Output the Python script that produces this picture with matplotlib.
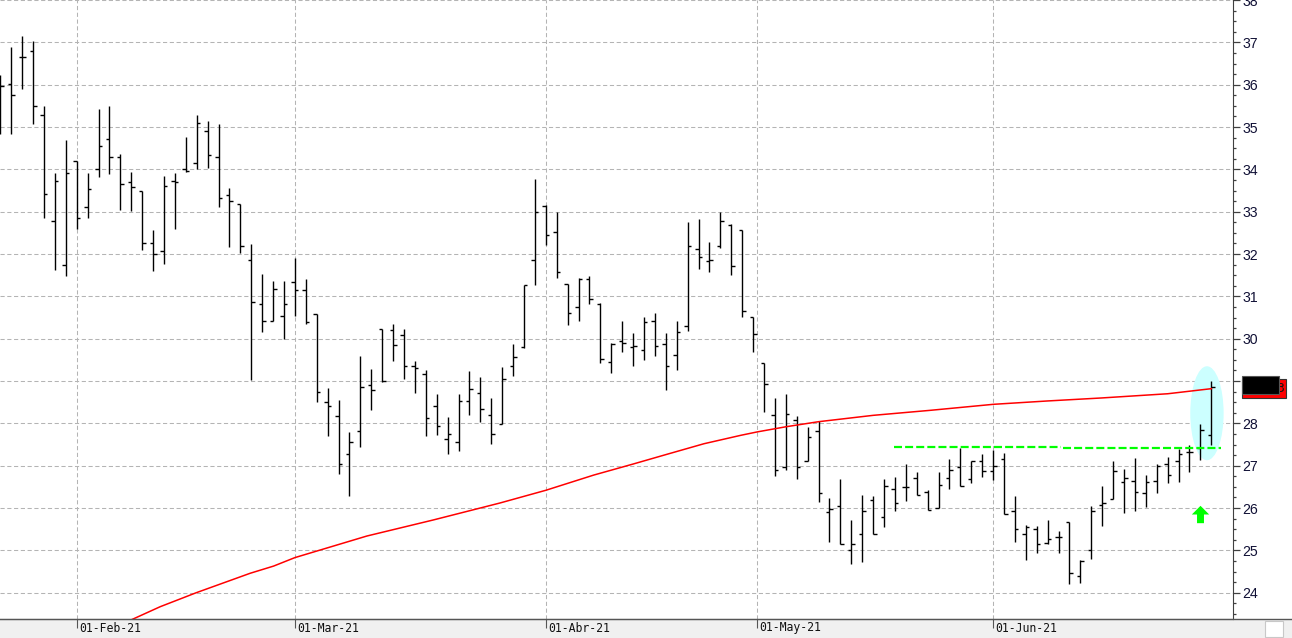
import numpy as np
import pandas as pd
import matplotlib
matplotlib.use("Agg")
import matplotlib.pyplot as plt
from matplotlib import font_manager
from matplotlib.patches import Ellipse, Rectangle
from matplotlib.lines import Line2D
from matplotlib.path import Path
from matplotlib.ticker import MultipleLocator, FixedLocator

# --- daily OHLC, one entry per trading session (21-Jan-21 .. 29-Jun-21) ---
opens = [36.10, 36.01, 36.65, 36.79, 35.28, 32.77, 31.73, 34.19, 33.10, 34.00,
         34.72, 34.30, 33.70, 33.49, 32.25, 32.07, 33.72, 34.00, 34.15, 34.90,
         34.30, 33.40, 33.18, 31.86, 30.82, 30.41, 30.53, 31.34, 31.15, 30.58,
         28.50, 28.17, 27.27, 27.81, 28.90, 30.22, 30.20, 30.09, 29.36, 29.16,
         28.40, 27.62, 27.57, 28.53, 28.71, 28.20, 27.99, 29.35, 29.80, 31.87,
         33.13, 32.51, 31.30, 30.76, 31.41, 30.82, 29.46, 29.94, 29.80, 29.74,
         30.41, 29.87, 29.61, 30.29, 32.13, 31.83, 32.20, 32.69, 32.56, 30.51,
         29.42, 28.20, 26.98, 28.09, 27.11, 27.81, 25.90, 26.06, 25.00, 25.38,
         26.20, 25.79, 26.44, 26.49, 26.72, 26.37, 26.00, 26.72, 26.96, 26.69,
         27.11, 26.88, 27.17, 25.93, 25.39, 25.51, 25.18, 25.31, 25.68, 24.40,
         25.01, 26.08, 26.22, 26.61, 26.65, 26.36, 26.65, 27.04, 27.10, 27.32,
         27.43, 27.73]
highs = [36.23, 36.90, 37.16, 37.04, 35.50, 33.92, 34.69, 34.19, 33.92, 35.43,
         35.50, 34.36, 33.94, 33.49, 32.56, 33.85, 33.92, 34.77, 35.28, 35.15,
         35.07, 33.55, 33.18, 32.24, 31.53, 31.36, 31.36, 31.91, 31.41, 30.58,
         28.84, 28.55, 27.80, 29.58, 29.28, 30.22, 30.35, 30.24, 29.47, 29.26,
         28.69, 28.14, 28.69, 29.24, 29.09, 28.60, 29.33, 29.88, 31.28, 33.77,
         33.15, 33.00, 31.30, 31.43, 31.47, 30.85, 29.91, 30.42, 30.13, 30.51,
         30.61, 30.13, 30.42, 32.76, 32.83, 32.28, 32.99, 32.70, 32.56, 30.51,
         29.42, 28.61, 28.69, 28.17, 27.91, 28.06, 26.24, 26.69, 25.72, 26.31,
         26.29, 26.69, 26.73, 27.03, 26.86, 26.43, 26.86, 27.16, 27.41, 27.11,
         27.28, 27.38, 27.30, 26.29, 25.59, 25.57, 25.71, 25.47, 25.68, 24.78,
         26.06, 26.53, 27.10, 26.92, 27.18, 26.78, 27.04, 27.21, 27.40, 27.50,
         27.98, 29.01]
lows = [34.83, 34.83, 35.89, 35.07, 32.86, 31.63, 31.49, 32.60, 32.84, 33.81,
        33.90, 33.05, 33.02, 32.09, 31.61, 31.76, 32.58, 33.94, 34.00, 34.04,
        33.10, 32.17, 32.03, 29.03, 30.15, 30.41, 30.00, 30.53, 30.34, 28.51,
        27.71, 26.81, 26.29, 27.45, 28.32, 28.97, 29.47, 29.06, 28.72, 27.71,
        27.73, 27.28, 27.35, 28.21, 28.03, 27.52, 27.98, 29.13, 29.77, 31.26,
        32.22, 31.44, 30.33, 30.43, 30.83, 29.42, 29.20, 29.69, 29.36, 29.50,
        29.60, 28.80, 29.27, 30.18, 31.64, 31.58, 32.15, 31.51, 30.51, 29.69,
        28.28, 26.76, 26.90, 26.69, 27.11, 26.15, 25.20, 25.14, 24.67, 24.73,
        25.38, 25.56, 25.94, 26.17, 26.32, 25.96, 26.00, 26.44, 26.51, 26.59,
        26.73, 26.67, 25.85, 25.20, 24.78, 24.94, 25.16, 24.94, 24.21, 24.23,
        24.80, 25.57, 26.22, 25.89, 25.93, 26.02, 26.36, 26.59, 26.61, 26.85,
        27.14, 27.50]
closes = [35.97, 35.75, 36.65, 35.49, 33.41, 33.72, 33.91, 32.84, 33.53, 34.55,
          34.30, 33.65, 33.58, 32.25, 32.00, 33.60, 33.69, 33.95, 35.09, 34.33,
          33.32, 33.25, 32.18, 30.86, 30.41, 31.17, 30.82, 31.15, 30.39, 28.74,
          28.40, 27.04, 27.57, 28.87, 28.80, 29.00, 29.84, 29.35, 29.30, 28.13,
          27.95, 27.76, 28.53, 28.81, 28.34, 27.74, 29.06, 29.56, 31.28, 33.00,
          32.44, 31.57, 30.60, 31.41, 30.94, 29.51, 29.88, 29.89, 29.82, 30.39,
          29.82, 29.35, 30.17, 32.20, 31.92, 31.85, 32.77, 31.71, 30.65, 30.10,
          28.92, 26.89, 28.22, 26.98, 27.69, 26.35, 25.98, 25.14, 25.14, 25.94,
          25.38, 26.51, 26.11, 26.49, 26.32, 25.96, 26.55, 26.90, 26.51, 27.11,
          26.88, 27.00, 25.86, 25.51, 25.56, 25.16, 25.27, 25.31, 24.47, 24.74,
          25.94, 26.11, 26.88, 26.71, 26.37, 26.62, 26.99, 26.77, 27.28, 27.32,
          27.85, 28.87]

# --- long moving average (red), read at selected sessions ---
ma_idx = [12.0, 14.65, 17.95, 22.9, 25.05, 27.0, 33.6, 39.7, 45.8, 50.0,
          54.4, 58.0, 61.1, 64.5, 67.9, 69.4, 72.0, 75.0, 80.0, 85.3, 91.0,
          96.0, 100.9, 107.0, 111.0]
ma_val = [23.36, 23.67, 24.00, 24.46, 24.63, 24.83, 25.34, 25.72, 26.12, 26.42,
          26.78, 27.04, 27.27, 27.52, 27.72, 27.80, 27.92, 28.04, 28.19, 28.31,
          28.45, 28.53, 28.60, 28.70, 28.82]

# --- calendar ---
first_day, last_day = "2021-01-21", "2021-06-29"
holidays = ["2021-04-02", "2021-04-05"]
month_starts = ["2021-02-01", "2021-03-01", "2021-04-01", "2021-05-01", "2021-06-01"]
month_labels = ["01-Feb-21", "01-Mar-21", "01-Abr-21", "01-May-21", "01-Jun-21"]

# --- drawn annotations (session index / price) ---
support_x0 = [81.9, 97.4]
support_x1 = [97.2, 111.9]
support_y = [27.445, 27.42]
highlight_center = (110.6, 28.24)
highlight_size = (3.06, 2.22)
arrow_pos = (110.0, 25.87)

W, H, DPI = 1292, 638, 100
PLOT_RIGHT, PLOT_BOTTOM = 1232.7, 619


def trading_days():
    days = pd.bdate_range(first_day, last_day)
    return days[~days.isin(pd.to_datetime(holidays))]


def pick_font(candidates):
    for name in candidates:
        try:
            font_manager.findfont(name, fallback_to_default=False)
            return name
        except ValueError:
            continue
    return "DejaVu Sans"


def px(x, y):
    """pixel (from top-left) -> figure fraction"""
    return x / W, 1 - y / H


def arrow_marker():
    verts = [(-0.5, 0.0), (0.0, 0.5), (0.5, 0.0), (0.2, 0.0), (0.2, -0.5),
             (-0.2, -0.5), (-0.2, 0.0), (-0.5, 0.0)]
    codes = [Path.MOVETO] + [Path.LINETO] * 6 + [Path.CLOSEPOLY]
    return Path(verts, codes)


def main():
    days = trading_days()
    x = np.arange(len(days))
    ords = np.array([d.toordinal() for d in days])
    month_pos = [np.interp(pd.Timestamp(m).toordinal(), ords, x) for m in month_starts]

    date_font = pick_font(["Liberation Sans Narrow", "DejaVu Sans Mono"])
    date_size = 10 if date_font == "Liberation Sans Narrow" else 8.3

    fig = plt.figure(figsize=(W / DPI, H / DPI), dpi=DPI)
    fig.patch.set_facecolor("white")

    # grey strip with the dates
    fig.add_artist(Rectangle((0, 0), 1, (H - PLOT_BOTTOM) / H, transform=fig.transFigure,
                             facecolor="#f0f0f0", edgecolor="none", zorder=0))
    fig.add_artist(Line2D([0, 1], [1 - PLOT_BOTTOM / H] * 2, transform=fig.transFigure,
                          color="#555555", lw=1.0, zorder=1))

    ax = fig.add_axes([0, 1 - PLOT_BOTTOM / H, PLOT_RIGHT / W, PLOT_BOTTOM / H])
    ax.set_xlim(-0.03, 112.96)
    ax.set_ylim(23.38, 38.0)

    # grid
    ax.yaxis.set_major_locator(MultipleLocator(1))
    ax.yaxis.set_minor_locator(MultipleLocator(0.25))
    ax.xaxis.set_major_locator(FixedLocator(month_pos))
    ax.grid(True, which="major", color="#b4b4b4", lw=0.75, linestyle=(0, (4, 2.5)))
    ax.set_axisbelow(True)

    # highlight ellipse
    ax.add_patch(Ellipse(highlight_center, highlight_size[0], highlight_size[1],
                         facecolor="#ccffff", edgecolor="none", zorder=1))

    # OHLC bars
    ax.vlines(x, lows, highs, color="black", lw=1.0, zorder=3)
    ax.hlines(opens, x - 0.32, x, color="black", lw=1.0, zorder=3)
    ax.hlines(closes, x, x + 0.32, color="black", lw=1.0, zorder=3)

    # moving average
    ax.plot(ma_idx, ma_val, color="#ff0000", lw=1.1, zorder=4)

    # support line
    for a, b, y in zip(support_x0, support_x1, support_y):
        ax.plot([a, b], [y, y], color="#00ff00", lw=1.6, linestyle=(0, (3.6, 1.4)), zorder=5)

    ax.plot(*arrow_pos, marker=arrow_marker(), ms=12.5, color="#00ff00", mec="none", zorder=5)

    # axes styling
    for s in ["top", "left"]:
        ax.spines[s].set_visible(False)
    ax.spines["right"].set_color("#404040")
    ax.spines["bottom"].set_color("#555555")
    ax.yaxis.tick_right()
    ax.tick_params(axis="y", which="major", length=4.8, width=0.9, color="#404040",
                   pad=2.2, labelsize=10.2, labelcolor="#101035")
    ax.tick_params(axis="y", which="minor", length=2.2, width=0.9, color="#404040")
    for lab in ax.get_yticklabels():
        lab.set_family("Liberation Sans")
    ax.tick_params(axis="x", length=6.5, width=0.8, color="#555555", labelbottom=False)

    for pos, lab in zip(month_pos, month_labels):
        ax.annotate(lab, xy=(pos, 0), xycoords=("data", "axes fraction"),
                    xytext=(1.8, -1.8), textcoords="offset points", ha="left", va="top",
                    fontsize=date_size, family=date_font, color="#111111",
                    annotation_clip=False)

    # last price tag (masked)
    x0, y0 = px(1242, 397.5)
    fig.add_artist(Rectangle((x0, y0), 44 / W, 18.5 / H, transform=fig.transFigure,
                             facecolor="#ff0000", edgecolor="#333333", lw=0.8, zorder=6))
    fig.text(*px(1284, 388), "3", ha="right", va="center", fontsize=9, color="#111111", zorder=7)
    x0, y0 = px(1242, 394)
    fig.add_artist(Rectangle((x0, y0), 36.5 / W, 18 / H, transform=fig.transFigure,
                             facecolor="black", edgecolor="#555555", lw=0.8, zorder=8))

    # small toolbar icon
    x0, y0 = px(1265, 637)
    fig.add_artist(Rectangle((x0, y0), 18 / W, 16 / H, transform=fig.transFigure,
                             facecolor="white", edgecolor="#c8c8c8", lw=0.8, zorder=6))

    fig.savefig("out.png", dpi=DPI)


if __name__ == "__main__":
    main()
